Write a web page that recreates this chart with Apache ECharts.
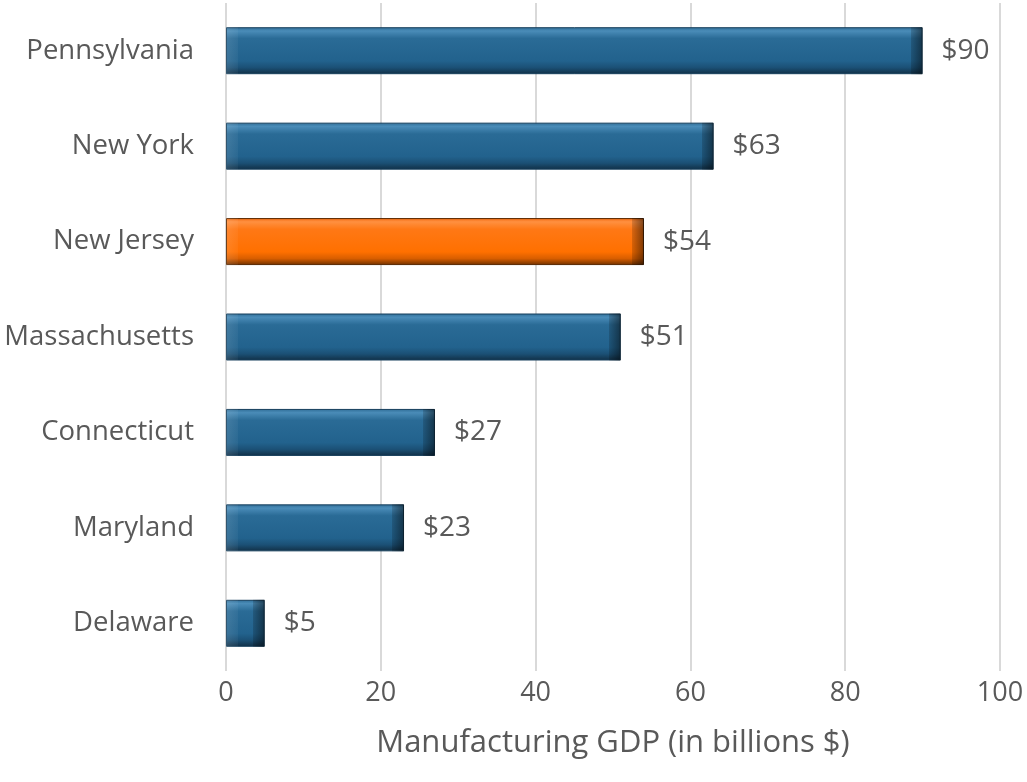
<!DOCTYPE html>
<html><head><meta charset="utf-8">
<script src="https://cdn.jsdelivr.net/npm/echarts@6/dist/echarts.min.js"></script>
<style>html,body{margin:0;padding:0;background:#fff}#c{width:1027px;height:782px}</style>
</head><body><div id="c"></div>
<script>
const categories = ['Delaware','Maryland','Connecticut','Massachusetts','New Jersey','New York','Pennsylvania'];
const values = [5, 23, 27, 51, 54, 63, 90];
const highlight = 'New Jersey';
const xTicks = [0, 20, 40, 60, 80, 100];
const axisTitle = 'Manufacturing GDP (in billions $)';

const G = echarts.graphic.LinearGradient;
const blue = new G(0,0,0,1,[
  {offset:0,color:'#2f6d96'},{offset:0.08,color:'#4a8cb8'},{offset:0.24,color:'#2a6b96'},
  {offset:0.72,color:'#22628d'},{offset:0.86,color:'#1b5075'},{offset:1,color:'#112f45'}]);
const orange = new G(0,0,0,1,[
  {offset:0,color:'#f26a10'},{offset:0.08,color:'#ff9040'},{offset:0.24,color:'#ff7815'},
  {offset:0.72,color:'#ff7000'},{offset:0.86,color:'#d95e00'},{offset:1,color:'#6e3000'}]);
const pxPerUnit = 7.74;
function sideShade(v){
  const a = Math.min(0.45, 12/(v*pxPerUnit));
  return new G(0,0,1,0,[
    {offset:0,color:'rgba(255,255,255,0.12)'},{offset:a,color:'rgba(255,255,255,0.04)'},
    {offset:a+0.0001,color:'rgba(0,0,0,0)'},{offset:1-a-0.0001,color:'rgba(0,0,0,0)'},
    {offset:1-a,color:'rgba(0,0,0,0.15)'},{offset:1,color:'rgba(0,0,0,0.5)'}]);
}

const chart = echarts.init(document.getElementById('c'));
const font = '"Open Sans", "Noto Sans", sans-serif';
const txt = '#595959';
chart.setOption({
  animation:false,
  grid:{left:226,right:27,top:3,bottom:111,containLabel:false},
  xAxis:{type:'value',min:0,max:100,interval:20,
    axisLine:{show:false},axisTick:{show:false},
    splitLine:{show:true,lineStyle:{color:'#d9d9d9',width:2}},
    axisLabel:{color:txt,fontSize:27,fontFamily:font,margin:9,
      formatter:v=>xTicks.includes(v)?String(v):''},
    name:axisTitle,nameLocation:'middle',nameGap:57,
    nameTextStyle:{color:txt,fontSize:31,fontFamily:font}},
  yAxis:{type:'category',data:categories,
    axisLine:{show:false},axisTick:{show:false},
    axisLabel:{color:txt,fontSize:27.5,fontFamily:font,margin:32}},
  series:[{type:'bar',barWidth:47,
    data:values.map((v,i)=>({value:v,itemStyle:{color:categories[i]===highlight?orange:blue,
      borderColor:categories[i]===highlight?'#5a2800':'#163f5c',borderWidth:1}})),
    label:{show:true,position:'right',distance:19,formatter:p=>'$'+p.value,
      color:txt,fontSize:28,fontFamily:font}},
  {type:'bar',barWidth:47,barGap:'-100%',silent:true,
    data:values.map(v=>({value:v,itemStyle:{color:sideShade(v)}}))}]
});
</script></body></html>
